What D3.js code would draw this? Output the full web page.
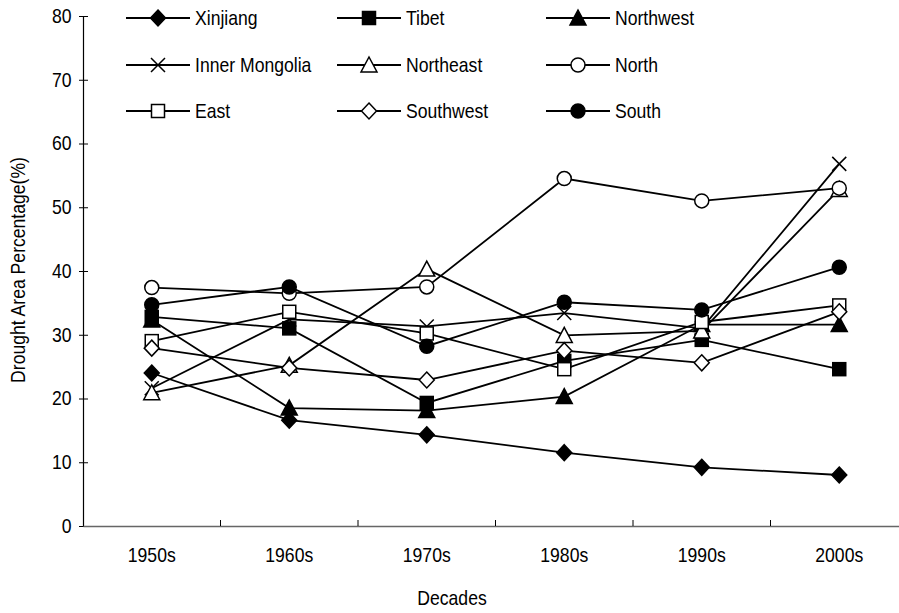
<!DOCTYPE html>
<html>
<head>
<meta charset="utf-8">
<script src="https://cdn.jsdelivr.net/npm/d3@7"></script>
<style>
  html, body { margin: 0; padding: 0; background: #fff; }
  svg { display: block; font-family: "Liberation Sans", Arial, sans-serif; }
</style>
</head>
<body>
<svg id="chart" width="899" height="613"></svg>
<script>
// Decades on the category axis
const decades = ["1950s", "1960s", "1970s", "1980s", "1990s", "2000s"];
const yTicks = [0, 10, 20, 30, 40, 50, 60, 70, 80];

// Drought area percentage (%) per region and decade
const xinjiang      = [24.0, 16.6, 14.3, 11.5, 9.2, 8.0];
const tibet         = [32.8, 31.0, 19.3, 25.9, 29.2, 24.6];
const northwest     = [32.3, 18.5, 18.1, 20.3, 31.6, 31.6];
const innerMongolia = [21.6, 32.4, 31.3, 33.4, 31.0, 56.8];
const northeast     = [20.9, 25.2, 40.3, 29.9, 30.6, 52.8];
const north         = [37.4, 36.5, 37.5, 54.5, 51.0, 53.0];
const east          = [29.0, 33.6, 30.2, 24.6, 32.0, 34.6];
const southwest     = [27.9, 24.8, 22.9, 27.5, 25.6, 33.6];
const south         = [34.7, 37.5, 28.2, 35.1, 33.9, 40.6];

const seriesNames = ["Xinjiang", "Tibet", "Northwest", "Inner Mongolia", "Northeast",
                     "North", "East", "Southwest", "South"];
const seriesValues = [xinjiang, tibet, northwest, innerMongolia, northeast,
                      north, east, southwest, south];
// marker shape and fill for each series
const markerTypes = ["diamond", "square", "triangle", "cross", "triangle",
                     "circle", "square", "diamond", "circle"];
const markerFilled = [true, true, true, false, false, false, false, false, true];

const series = seriesNames.map((name, i) => ({
  name, values: seriesValues[i], type: markerTypes[i], filled: markerFilled[i]
}));

const svg = d3.select("#chart");
const plotLeft = 83, plotRight = 908, plotTop = 16, plotBottom = 526;
const fontSize = 20;
const squeeze = "scale(0.88,1)";   // narrow, tall lettering

const x = d3.scaleBand().domain(decades).range([plotLeft, plotRight]).padding(0);
const y = d3.scaleLinear().domain([0, 80]).range([plotBottom, plotTop]);
const cx = d => x(d) + x.bandwidth() / 2;

// Axes
const yAxis = svg.append("g").attr("transform", `translate(${plotLeft},0)`)
  .call(d3.axisLeft(y).tickValues(yTicks).tickSize(4).tickSizeOuter(0).tickPadding(9));
yAxis.select(".domain").attr("stroke", "#000").attr("stroke-width", 1.2);
yAxis.selectAll(".tick line").attr("x2", 5).attr("x1", -4).attr("stroke", "#000");
yAxis.selectAll(".tick text").attr("font-size", fontSize).attr("fill", "#000")
  .attr("font-family", "Liberation Sans, Arial, sans-serif").attr("transform", squeeze);

const xAxis = svg.append("g").attr("transform", `translate(0,${plotBottom})`)
  .call(d3.axisBottom(x).tickSize(0).tickSizeOuter(0).tickPadding(22));
xAxis.select(".domain").attr("stroke", "#666").attr("stroke-width", 1.6);
xAxis.selectAll(".tick text").attr("font-size", fontSize).attr("fill", "#000")
  .attr("font-family", "Liberation Sans, Arial, sans-serif").attr("dy", "0.71em")
  .attr("transform", squeeze);
// tick marks between categories
svg.append("g").selectAll("line")
  .data(decades.slice(1))
  .join("line")
  .attr("x1", d => x(d)).attr("x2", d => x(d))
  .attr("y1", plotBottom).attr("y2", plotBottom - 6)
  .attr("stroke", "#000").attr("stroke-width", 1);

// Axis titles
svg.append("text").attr("transform", `translate(452,605) ${squeeze}`).attr("text-anchor", "middle")
  .attr("font-size", fontSize).text("Decades");
svg.append("text").attr("transform", `translate(25,270) rotate(-90) ${squeeze}`)
  .attr("text-anchor", "middle").attr("font-size", fontSize).text("Drought Area Percentage(%)");

// Marker drawing
function drawMarker(g, type, filled, px, py) {
  const fill = filled ? "#000" : "#fff";
  const sw = 1.5;
  if (type === "diamond") {
    const r = 8;
    g.append("path").attr("d", `M${px},${py - r}L${px + r - 0.5},${py}L${px},${py + r}L${px - r + 0.5},${py}Z`)
      .attr("fill", fill).attr("stroke", "#000").attr("stroke-width", sw);
  } else if (type === "square") {
    const s = 13;
    g.append("rect").attr("x", px - s / 2).attr("y", py - s / 2).attr("width", s).attr("height", s)
      .attr("fill", fill).attr("stroke", "#000").attr("stroke-width", sw);
  } else if (type === "triangle") {
    const w = 8, h = 14;
    g.append("path").attr("d", `M${px},${py - h / 2 - 1}L${px + w},${py + h / 2}L${px - w},${py + h / 2}Z`)
      .attr("fill", fill).attr("stroke", "#000").attr("stroke-width", sw);
  } else if (type === "circle") {
    g.append("circle").attr("cx", px).attr("cy", py).attr("r", 7)
      .attr("fill", fill).attr("stroke", "#000").attr("stroke-width", sw);
  } else if (type === "cross") {
    const r = 7;
    g.append("path").attr("d", `M${px - r},${py - r}L${px + r},${py + r}M${px + r},${py - r}L${px - r},${py + r}`)
      .attr("fill", "none").attr("stroke", "#000").attr("stroke-width", sw);
  }
}

// Series lines first, then markers on top
const line = d3.line().x((v, i) => cx(decades[i])).y(v => y(v));
const lineLayer = svg.append("g");
series.forEach(s => {
  lineLayer.append("path").attr("d", line(s.values))
    .attr("fill", "none").attr("stroke", "#000").attr("stroke-width", 1.8);
});
const markerLayer = svg.append("g");
series.forEach(s => {
  s.values.forEach((v, i) => drawMarker(markerLayer, s.type, s.filled, cx(decades[i]), y(v)));
});

// Legend: 3 columns x 3 rows
const legendCols = [158, 369, 578];
const legendRows = [18, 65, 111];
const legend = svg.append("g");
series.forEach((s, i) => {
  const mx = legendCols[i % 3], my = legendRows[Math.floor(i / 3)];
  legend.append("line").attr("x1", mx - 32).attr("x2", mx + 32).attr("y1", my).attr("y2", my)
    .attr("stroke", "#000").attr("stroke-width", 1.8);
  drawMarker(legend, s.type, s.filled, mx, my);
  legend.append("text").attr("transform", `translate(${mx + 37},${my}) ${squeeze}`)
    .attr("dy", "0.36em").attr("font-size", fontSize).text(s.name);
});
</script>
</body>
</html>
